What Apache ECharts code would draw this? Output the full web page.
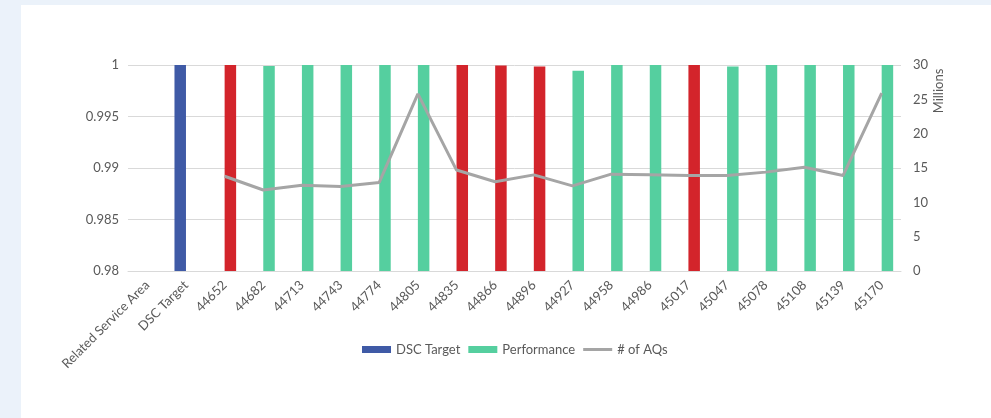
<!DOCTYPE html>
<html>
<head>
<meta charset="utf-8">
<script src="https://cdn.jsdelivr.net/npm/echarts@6/dist/echarts.min.js"></script>
<style>
html,body{margin:0;padding:0;background:#ebf2fa;width:991px;height:418px;overflow:hidden;}
#chart{position:absolute;left:21px;top:5px;width:970px;height:413px;background:#ffffff;}
</style>
</head>
<body>
<div id="chart"></div>
<script>
const categories = ['Related Service Area','DSC Target','44652','44682','44713','44743','44774','44805','44835','44866','44896','44927','44958','44986','45017','45047','45078','45108','45139','45170'];
const dscTarget = [null, 1, null, null, null, null, null, null, null, null, null, null, null, null, null, null, null, null, null, null];
const performance = [null, null, 1, 0.9999, 1, 1, 1, 1, 1, 0.99994, 0.99985, 0.99945, 1, 1, 1, 0.99985, 1, 1, 1, 1];
const belowTarget = [false, false, true, false, false, false, false, false, true, true, true, false, false, false, true, false, false, false, false, false];
const aqsMillions = [null, null, 13.8, 11.8, 12.5, 12.3, 12.9, 25.8, 14.7, 13.0, 14.0, 12.4, 14.1, 14.0, 13.9, 13.9, 14.4, 15.1, 13.9, 25.9];
const leftTicks = ['1','0.995','0.99','0.985','0.98'];
const rightTicks = ['30','25','20','15','10','5','0'];

const BLUE = '#3f5aa6', GREEN = '#55cf9f', RED = '#d3242b', GRAY = '#a5a5a5';
const TXT = '#595959';
const FONT = 'Lato';

const chart = echarts.init(document.getElementById('chart'));
chart.setOption({
  animation: false,
  textStyle: {fontFamily: FONT},
  grid: {left: 107, top: 60, width: 773, height: 206},
  legend: {
    left: 336, top: 333, itemWidth: 29, itemHeight: 7, itemGap: 8,
    textStyle: {fontFamily: FONT, fontSize: 13, color: TXT},
    data: [
      {name: 'DSC Target', icon: 'rect'},
      {name: 'Performance', icon: 'rect'},
      {name: '# of AQs', icon: 'path://M0,0L0.01,0M0,2H29V5H0ZM28.99,7L29,7'}
    ]
  },
  xAxis: {
    type: 'category', data: categories,
    axisLine: {lineStyle: {color: '#d9d9d9', width: 1}},
    axisTick: {show: false},
    axisLabel: {rotate: 45, interval: 0, fontSize: 13, color: TXT, fontFamily: FONT, margin: 12}
  },
  yAxis: [
    {
      type: 'value', min: 0.98, max: 1, interval: 0.005,
      axisLine: {show: false}, axisTick: {show: false},
      splitLine: {lineStyle: {color: '#d9d9d9', width: 1}},
      axisLabel: {fontSize: 13, color: TXT, fontFamily: FONT, margin: 9,
        formatter: v => { const i = Math.round((1 - v) / 0.005); return leftTicks[i] !== undefined ? leftTicks[i] : ''; }}
    },
    {
      type: 'value', min: 0, max: 30, interval: 5,
      axisLine: {show: false}, axisTick: {show: false}, splitLine: {show: false},
      axisLabel: {fontSize: 13, color: TXT, fontFamily: FONT, margin: 12,
        formatter: v => { const i = Math.round((30 - v) / 5); return rightTicks[i] !== undefined ? rightTicks[i] : ''; }}
    }
  ],
  graphic: [{
    type: 'text', x: 918, y: 86, rotation: Math.PI / 2,
    style: {text: 'Millions', fontSize: 13, fontFamily: FONT, fill: TXT, align: 'center', verticalAlign: 'middle'}
  }],
  series: [
    {
      name: 'DSC Target', type: 'bar', data: dscTarget, barWidth: 11.5, barGap: '0%',
      itemStyle: {color: BLUE}
    },
    {
      name: 'Performance', type: 'bar', barWidth: 11.5, barGap: '0%',
      itemStyle: {color: GREEN},
      data: performance.map((v, i) => v === null ? null : {value: v, itemStyle: {color: belowTarget[i] ? RED : GREEN}})
    },
    {
      name: '# of AQs', type: 'line', yAxisIndex: 1, data: aqsMillions,
      symbol: 'none', showSymbol: false, connectNulls: false,
      lineStyle: {color: GRAY, width: 3}, itemStyle: {color: GRAY}
    }
  ]
});
</script>
</body>
</html>
